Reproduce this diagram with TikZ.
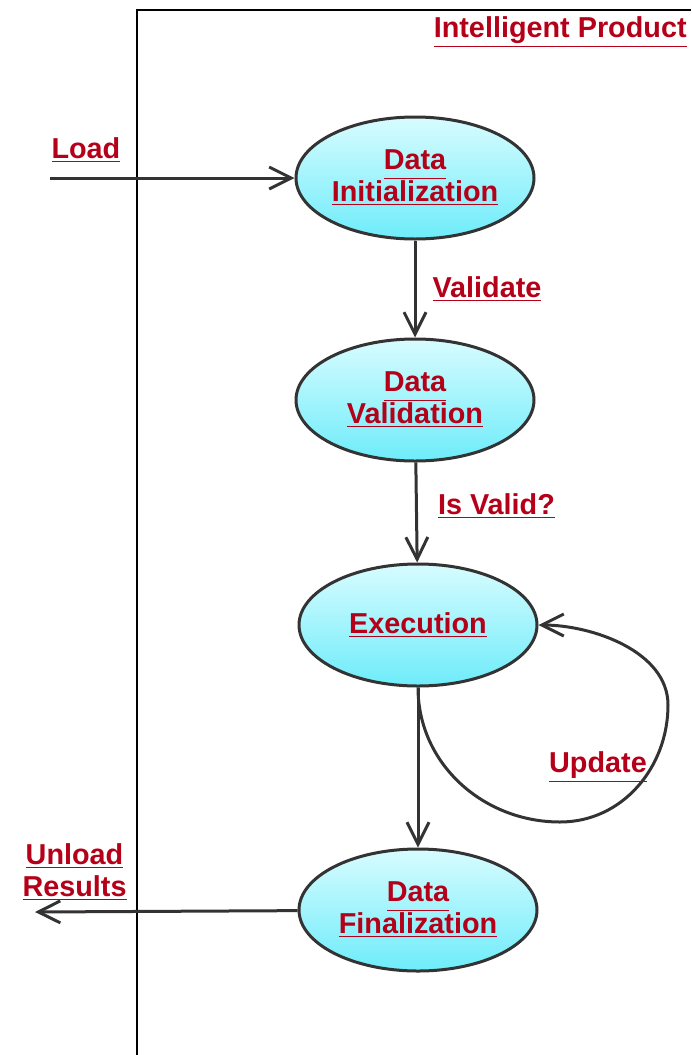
\documentclass[tikz,border=0pt]{standalone}
\usepackage{fontspec}
\setmainfont{Liberation Sans}
\usetikzlibrary{shapes.geometric,arrows.meta}
\definecolor{lblred}{RGB}{180,0,24}
\definecolor{linegray}{RGB}{51,51,51}
\definecolor{cyanlight}{RGB}{215,252,255}
\definecolor{cyandeep}{RGB}{110,236,250}
\newcommand{\ul}[1]{\underline{#1}}

\begin{document}
\begin{tikzpicture}[x=0.5pt,y=-0.5pt,>={Straight Barb[length=11pt,width=11pt]},
  font=\fontsize{14.4}{16}\selectfont\bfseries]

\tikzset{state/.style={ellipse,draw=linegray,line width=1.5pt,top color=cyanlight,bottom color=cyandeep,
          minimum width=119pt,minimum height=61pt,inner sep=0pt,text=lblred,align=center},
         lbl/.style={text=lblred,align=center,inner sep=1pt},
         flow/.style={->,draw=linegray,line width=1.5pt}}

    \useasboundingbox (0,0) rectangle (691,1055);

    % frame of the product
    \draw[line width=1pt] (691,10) -| (137,1055);
    \node[lbl,anchor=east] (title) at (689,32) {\ul{Intelligent Product}};

    \node[state] (init) at (415,178) {\ul{Data\vphantom{g}}\\\ul{Initialization}};
    \node[state,below of=init,node distance=111pt] (valid) {\ul{Data\vphantom{g}}\\\ul{Validation}};
    \node[state,below of=valid,node distance=112.5pt,xshift=1.5pt] (exec) {\ul{Execution}};
    \node[state,below of=exec,node distance=142.5pt] (final) {\ul{Data\vphantom{g}}\\\ul{Finalization}};

    \coordinate (loadin) at (50,178);
    \coordinate (unloadout) at (35,912);
    \coordinate (loopbot) at (560,822);
    \coordinate (loopright) at (668,705);

    \path
    (loadin) edge[flow] node[lbl,pos=0,above right,yshift=6pt,xshift=-1pt] {\ul{Load}} (init)
    (init)   edge[flow] node[lbl,right,xshift=7pt] {\ul{Validate}} (valid)
    (valid)  edge[flow] node[lbl,right,xshift=9pt,yshift=3pt] {\ul{Is Valid?}} (exec)
    (exec)   edge[flow] (final)
    (final)  edge[flow] node[lbl,pos=1,above right,yshift=4pt,xshift=-8pt] {\ul{Unload}\\\ul{Results}} (unloadout);

    \draw[flow] (exec.south) to[out=-90,in=180] (loopbot) to[out=0,in=-90] (loopright)
                to[out=90,in=0,looseness=0.9] (exec.east);
    \node[lbl] (updlbl) at (598,767) {\ul{Update}};

\end{tikzpicture}
\end{document}
